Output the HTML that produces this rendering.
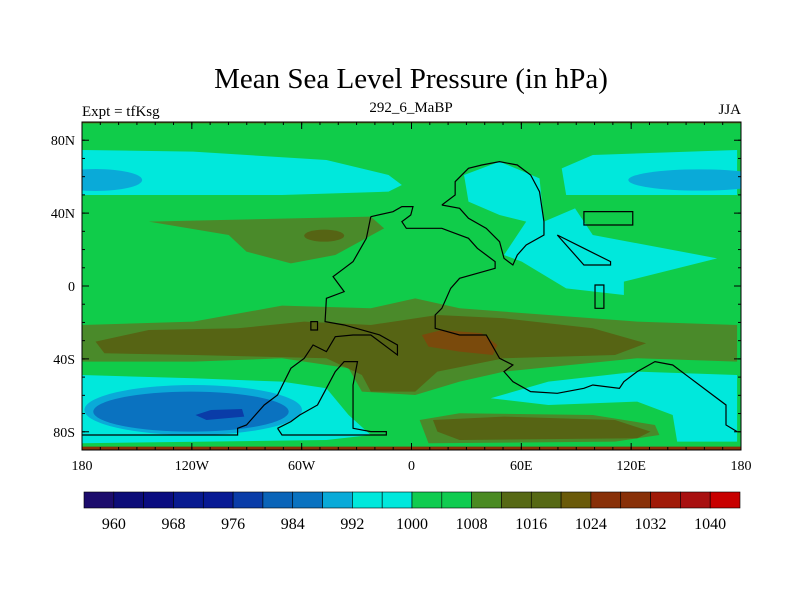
<!DOCTYPE html>
<html><head><meta charset="utf-8"><style>
body{margin:0;background:#fff;}
svg{display:block;font-family:"Liberation Serif",serif;}
</style></head><body>
<svg width="800" height="600" viewBox="0 0 800 600">
<text x="411" y="88" font-size="29" text-anchor="middle">Mean Sea Level Pressure (in hPa)</text>
<text x="82" y="116" font-size="15">Expt = tfKsg</text>
<text x="411" y="112" font-size="15" text-anchor="middle">292_6_MaBP</text>
<text x="741" y="114" font-size="15" text-anchor="end">JJA</text>
<defs><clipPath id="pc"><rect x="82" y="122" width="659" height="328"/></clipPath></defs>
<g clip-path="url(#pc)">
<rect x="82" y="122" width="659" height="328" fill="#10cc4a"/>
<g transform="matrix(0.444,0,0,0.3333,60,95)">
<polygon fill="#00e8dc" points="50,165 300,170 600,195 740,240 770,270 740,290 500,300 300,300 50,300"/>
<ellipse fill="#0aaad8" cx="80" cy="255" rx="105" ry="33"/>
<polygon fill="#00e8dc" points="1525,165 1200,180 1130,220 1140,300 1300,300 1525,300"/>
<ellipse fill="#0aaad8" cx="1440" cy="255" rx="160" ry="32"/>
<polygon fill="#00e8dc" points="910,240 990,200 1080,250 1090,380 1160,340 1200,420 1480,490 1270,560 1270,600 1140,580 1040,500 1000,480 1050,380 990,360 920,320"/>
<polygon fill="#4a8a2a" points="200,380 700,365 730,400 620,480 520,505 420,470 380,420"/>
<ellipse fill="#566414" cx="595" cy="422" rx="45" ry="18"/>
<polygon fill="#4a8a2a" points="50,690 300,680 500,632 700,640 800,610 900,640 1100,660 1300,680 1525,690 1525,800 1300,790 1000,830 900,860 800,900 680,890 650,820 500,790 300,800 50,800"/>
<polygon fill="#566414" points="80,740 200,705 400,700 550,680 700,690 850,660 1000,670 1200,700 1320,745 1250,780 1000,790 850,830 800,890 700,890 680,840 600,790 300,780 100,775"/>
<polygon fill="#7a4a0c" points="815,720 860,705 950,715 985,750 975,780 900,770 830,755"/>
<polygon fill="#00e8dc" points="50,840 300,850 500,860 600,880 650,960 700,1020 600,1035 50,1045"/>
<ellipse fill="#0aaad8" cx="300" cy="945" rx="245" ry="75"/>
<ellipse fill="#0a72c0" cx="295" cy="950" rx="220" ry="60"/>
<polygon fill="#0a3ca8" points="305,960 340,945 410,942 415,965 330,975"/>
<polygon fill="#00e8dc" points="970,910 1100,860 1300,830 1525,840 1525,1040 1390,1040 1380,960 1300,920 1100,930"/>
<polygon fill="#4a8a2a" points="810,975 900,955 1200,960 1340,990 1350,1020 1250,1040 830,1045"/>
<polygon fill="#566414" points="840,975 1000,965 1250,975 1330,1010 1300,1030 900,1035 850,1010"/>
<rect x="0" y="1055" width="1600" height="20" fill="#883008"/>
<rect x="0" y="0" width="1600" height="85" fill="#566414"/>
<g fill="none" stroke="#000" stroke-width="1.2">
<polyline vector-effect="non-scaling-stroke" points="700,365 690,430 660,500 640,520 615,545 640,590 600,610 597,680 640,690 720,720 760,750 760,780 740,760 700,720 660,720 620,725 600,770 570,750 550,790 520,820 505,860 490,900 460,930 420,990 400,1000 400,1020 50,1020"/>
<polyline vector-effect="non-scaling-stroke" points="700,365 750,350 770,335 795,335 790,360 770,380 780,400 860,400 880,410 920,430 940,460 980,500 980,520 900,550 880,580 860,640 845,660 845,700 900,720 960,720 990,790 1020,810 1000,830 1020,860 1060,890 1120,895 1180,880 1200,870 1260,880 1270,860 1300,830 1340,800 1380,810 1420,850 1470,900 1500,930 1500,990 1525,1010"/>
<polyline vector-effect="non-scaling-stroke" points="860,330 890,300 890,260 920,220 950,210 990,200 1030,210 1060,240 1080,290 1090,380 1090,420 1050,450 1030,480 1020,510 1000,490 990,440 960,400 920,370 900,340 860,330"/>
<polyline vector-effect="non-scaling-stroke" points="490,1000 520,980 540,960 580,930 600,880 620,830 640,800 670,800 660,870 660,1000 700,1010 735,1010 735,1020 500,1020 490,1000"/>
<rect vector-effect="non-scaling-stroke" x="1180" y="350" width="110" height="40"/>
<polyline vector-effect="non-scaling-stroke" points="1120,420 1180,460 1240,500 1240,510 1180,510 1120,420"/>
<rect vector-effect="non-scaling-stroke" x="565" y="680" width="15" height="25"/>
<rect vector-effect="non-scaling-stroke" x="1205" y="570" width="20" height="70"/>
</g>
</g>
</g>
<rect x="82" y="122" width="659" height="328" fill="none" stroke="#000" stroke-width="1"/>
<g id="axes" font-size="14"></g>
<g id="cbar"></g>
<script>
const lonTicks=["180","120W","60W","0","60E","120E","180"];
const latTicks=["80N","40N","0","40S","80S"];
const latVals=[80,40,0,-40,-80];
const cbLevels=[960,968,976,984,992,1000,1008,1016,1024,1032,1040];
const cbColors=["#1c0c6c","#0c0c78","#0a0c80","#081a90","#081a94","#0a3ca8","#0a64b8","#0a72c0","#0aaad8","#00e8dc","#00e8dc","#10cc50","#10cc50","#4a8a22","#566814","#566814","#6a5a0a","#883008","#883008","#a01a08","#a81010","#c80000"];
const NS="http://www.w3.org/2000/svg";
const X0=82,X1=741,Y0=122,Y1=450;
const xLon=l=>X0+(l+180)/360*(X1-X0);
const yLat=l=>Y0+(90-l)/180*(Y1-Y0);
const ax=document.getElementById('axes');
function mk(t,a,p){const e=document.createElementNS(NS,t);for(const k in a)e.setAttribute(k,a[k]);p.appendChild(e);return e;}
lonTicks.forEach((t,i)=>{const x=xLon(-180+i*60);
 const e=mk('text',{x:x,y:470,'text-anchor':'middle'},ax);e.textContent=t;
 
 
 mk('line',{x1:x,x2:x,y1:Y1,y2:Y1-7,stroke:'#000'},ax);mk('line',{x1:x,x2:x,y1:Y0,y2:Y0+7,stroke:'#000'},ax);});
for(let l=-170;l<180;l+=10){const x=xLon(l);mk('line',{x1:x,x2:x,y1:Y1,y2:Y1-3,stroke:'#000'},ax);mk('line',{x1:x,x2:x,y1:Y0,y2:Y0+3,stroke:'#000'},ax);}
latTicks.forEach((t,i)=>{const y=yLat(latVals[i]);
 const e=mk('text',{x:75,y:y+5,'text-anchor':'end'},ax);e.textContent=t;
 
 
 mk('line',{x1:X0,x2:X0+7,y1:y,y2:y,stroke:'#000'},ax);mk('line',{x1:X1,x2:X1-7,y1:y,y2:y,stroke:'#000'},ax);});
for(let l=-80;l<=80;l+=10){const y=yLat(l);mk('line',{x1:X0,x2:X0+3,y1:y,y2:y,stroke:'#000'},ax);mk('line',{x1:X1,x2:X1-3,y1:y,y2:y,stroke:'#000'},ax);}
const cb=document.getElementById('cbar');


const CX0=84,CX1=740,bw=(CX1-CX0)/cbColors.length;
cbColors.forEach((c,i)=>{const r=mk('rect',{x:CX0+i*bw,y:492,width:bw,height:16,fill:c,stroke:'#000','stroke-width':0.6},cb);
 
 });
cbLevels.forEach((v,i)=>{const x=CX0+(v-956)/4*bw;const t=mk('text',{x:x,y:529,'text-anchor':'middle','font-size':16},cb);t.textContent=v;
 
 });
</script>
</svg>
</body></html>
